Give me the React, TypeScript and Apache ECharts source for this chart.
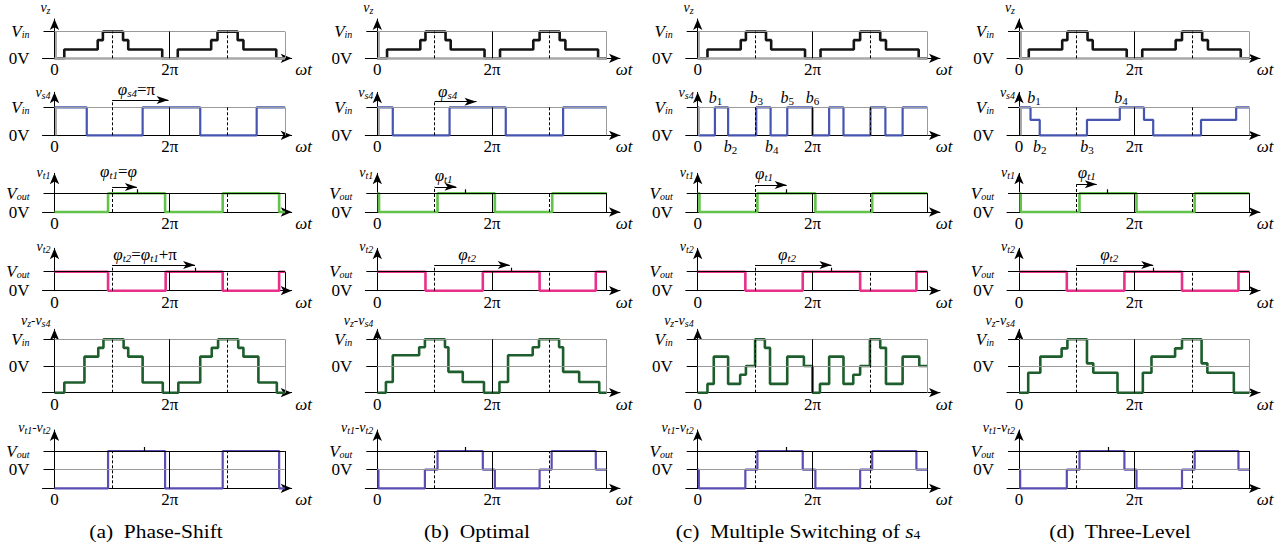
import React, { useEffect, useRef } from 'react';
import * as echarts from 'echarts';

type Pt = [number, number];

// x in units of π (axis spans 0 … 4π); y in units of the row's full level (Vin or Vout)
const vz: Pt[] = [[0, 0], [0.17, 0.33], [0.75, 0.68], [0.84, 1], [1.19, 0.68], [1.28, 0.33], [1.87, 0], [2.14, 0.33], [2.72, 0.68], [2.83, 1], [3.18, 0.68], [3.28, 0.33], [3.85, 0], [4, 0]];

const vs4A: Pt[] = [[0, 1], [0.56, 0], [1.53, 1], [2.53, 0], [3.51, 1], [4, 1]];
const vs4B: Pt[] = [[0, 1], [0.27, 0], [1.26, 1], [2.24, 0], [3.24, 1], [4, 1]];
const vs4C: Pt[] = [[0, 1], [0.02, 0], [0.3, 1], [0.53, 0], [1.02, 1], [1.27, 0], [1.56, 1], [2.0, 0], [2.29, 1], [2.54, 0], [3.01, 1], [3.27, 0], [3.57, 1], [4, 1]];
const vs4D: Pt[] = [[0, 1], [0.2, 0.55], [0.36, 0], [1.18, 0.55], [1.75, 1], [2.17, 0.55], [2.33, 0], [3.16, 0.55], [3.77, 1], [4, 1]];

const vt1A: Pt[] = [[0, 0], [0.93, 1], [1.92, 0], [2.92, 1], [3.9, 0], [4, 0]];
const vt1B: Pt[] = [[0, 1], [0.03, 0], [1.05, 1], [2.05, 0], [3.05, 1], [4, 1]];
const vt1C: Pt[] = [[0, 1], [0.03, 0], [1.04, 1], [2.05, 0], [3.04, 1], [4, 1]];
const vt1D: Pt[] = [[0, 1], [0.03, 0], [1.05, 1], [2.04, 0], [3.05, 1], [4, 1]];

const vt2A: Pt[] = [[0, 1], [0.93, 0], [1.93, 1], [2.92, 0], [3.9, 1], [4, 1]];
const vt2B: Pt[] = [[0, 1], [0.84, 0], [1.84, 1], [2.83, 0], [3.81, 1], [4, 1]];
const vt2C: Pt[] = [[0, 1], [0.83, 0], [1.83, 1], [2.83, 0], [3.81, 1], [4, 1]];
const vt2D: Pt[] = [[0, 1], [0.83, 0], [1.83, 1], [2.83, 0], [3.81, 1], [4, 1]];

const vzs4A: Pt[] = [[0, -1], [0.17, -0.62], [0.52, 0.35], [0.76, 0.68], [0.85, 1], [1.2, 0.68], [1.28, 0.35], [1.53, -0.62], [1.88, -1], [2.15, -0.62], [2.53, 0.35], [2.73, 0.68], [2.84, 1], [3.19, 0.68], [3.28, 0.35], [3.54, -0.62], [3.86, -1], [4, -1]];
const vzs4B: Pt[] = [[0, -1], [0.15, -0.6], [0.27, 0.4], [0.73, 0.7], [0.83, 1], [1.18, 0.7], [1.24, -0.22], [1.49, -0.6], [1.86, -1], [2.13, -0.6], [2.28, 0.4], [2.71, 0.7], [2.82, 1], [3.17, 0.7], [3.24, -0.22], [3.52, -0.6], [3.87, -1], [4, -1]];
const vzs4C: Pt[] = [[0, -1], [0.17, -0.67], [0.28, 0.35], [0.53, -0.67], [0.74, -0.33], [0.84, 0], [1.0, 1], [1.17, 0.68], [1.26, -0.67], [1.56, 0.35], [1.85, 0], [2.0, -1], [2.13, -0.67], [2.29, 0.35], [2.54, -0.67], [2.71, -0.33], [2.83, 0], [3.0, 1], [3.18, 0.68], [3.28, -0.67], [3.57, 0.35], [3.86, 0], [4, 0]];
const vzs4D: Pt[] = [[0, -1], [0.16, -0.25], [0.37, 0.35], [0.74, 0.66], [0.84, 1], [1.18, 0.1], [1.29, -0.25], [1.71, -1], [2.15, -0.25], [2.3, 0.35], [2.71, 0.66], [2.83, 1], [3.17, 0.1], [3.27, -0.25], [3.73, -1], [4, -1]];

const vt12A: Pt[] = [[0, -1], [0.93, 1], [1.92, -1], [2.92, 1], [3.9, -1], [4, -1]];
const vt12B: Pt[] = [[0, 0], [0.02, -1], [0.83, 0], [1.05, 1], [1.84, 0], [2.05, -1], [2.83, 0], [3.04, 1], [3.81, 0], [4, 0]];
const vt12C: Pt[] = [[0, 0], [0.02, -1], [0.83, 0], [1.04, 1], [1.83, 0], [2.05, -1], [2.83, 0], [3.04, 1], [3.81, 0], [4, 0]];
const vt12D: Pt[] = [[0, 0], [0.02, -1], [0.83, 0], [1.05, 1], [1.83, 0], [2.04, -1], [2.83, 0], [3.05, 1], [3.81, 0], [4, 0]];

// phase-shift arrows: row, start, end, level
type Arrow = { row: number; x1: number; x2: number; y: number };
type Note = { row: number; x: number; y: number; text: string };
const arrowsA: Arrow[] = [{ row: 1, x1: 1.0, x2: 1.98, y: 1.26 }, { row: 2, x1: 1.0, x2: 1.43, y: 1.34 }, { row: 3, x1: 1.0, x2: 2.44, y: 1.35 }];
const arrowsB: Arrow[] = [{ row: 1, x1: 1.0, x2: 1.73, y: 1.2 }, { row: 2, x1: 1.0, x2: 1.38, y: 1.35 }, { row: 3, x1: 1.0, x2: 2.31, y: 1.35 }];
const arrowsC: Arrow[] = [{ row: 2, x1: 1.0, x2: 1.55, y: 1.44 }, { row: 3, x1: 1.0, x2: 2.33, y: 1.35 }];
const arrowsD: Arrow[] = [{ row: 2, x1: 1.0, x2: 1.35, y: 1.48 }, { row: 3, x1: 1.0, x2: 2.33, y: 1.35 }];

const notesA: Note[] = [
  { row: 1, x: 1.1, y: 1.62, text: '{p|φ}{ps|s4}{r|=π}' },
  { row: 2, x: 0.79, y: 2.16, text: '{p|φ}{ps|t1}{r|=}{p|φ}' },
  { row: 3, x: 1.02, y: 1.9, text: '{p|φ}{ps|t2}{r|=}{p|φ}{ps|t1}{r|+π}' },
];
const notesB: Note[] = [
  { row: 1, x: 1.06, y: 1.55, text: '{p|φ}{ps|s4}' },
  { row: 2, x: 1.0, y: 1.95, text: '{p|φ}{ps|t1}' },
  { row: 3, x: 1.41, y: 1.9, text: '{p|φ}{ps|t2}' },
];
const notesC: Note[] = [
  { row: 2, x: 1.0, y: 2.05, text: '{p|φ}{ps|t1}' },
  { row: 3, x: 1.4, y: 1.9, text: '{p|φ}{ps|t2}' },
];
const notesD: Note[] = [
  { row: 2, x: 1.02, y: 2.1, text: '{p|φ}{ps|t1}' },
  { row: 3, x: 1.41, y: 1.9, text: '{p|φ}{ps|t2}' },
];

// small marks standing on the top level line: row, position
type Mark = { row: number; x: number };
const marksA: Mark[] = [{ row: 2, x: 1.43 }, { row: 3, x: 2.44 }, { row: 5, x: 1.56 }];
const marksB: Mark[] = [{ row: 2, x: 1.54 }, { row: 3, x: 2.33 }, { row: 5, x: 1.54 }];
const marksC: Mark[] = [{ row: 2, x: 1.55 }, { row: 3, x: 2.33 }, { row: 5, x: 1.55 }];
const marksD: Mark[] = [{ row: 2, x: 1.54 }, { row: 3, x: 2.33 }, { row: 5, x: 1.55 }];

// switching-instant labels on v_s4
type BLabel = { name: string; x: number; above: boolean };
const bLabelsC: BLabel[] = [{ name: '1', x: 0.31, above: true }, { name: '2', x: 0.57, above: false }, { name: '3', x: 1.02, above: true }, { name: '4', x: 1.29, above: false }, { name: '5', x: 1.56, above: true }, { name: '6', x: 2.0, above: true }];
const bLabelsD: BLabel[] = [{ name: '1', x: 0.26, above: true }, { name: '2', x: 0.36, above: false }, { name: '3', x: 1.18, above: false }, { name: '4', x: 1.77, above: true }];

const xTickValues = [0, 2];
const xTickLabels = ['0', '2π'];
const rowNames = ['{v|v}{s|z}', '{v|v}{s|s4}', '{v|v}{s|t1}', '{v|v}{s|t2}', '{v|v}{s|z}{m|-}{v|v}{s|s4}', '{v|v}{s|t1}{m|-}{v|v}{s|t2}'];
const rowTopSub = ['in', 'in', 'out', 'out', 'in', 'out'];
const captions = ['(a)  Phase-Shift', '(b)  Optimal', '(c)  Multiple Switching of {i|s}{is|4}', '(d)  Three-Level'];

const columns = [
  { vs4: vs4A, vt1: vt1A, vt2: vt2A, vzs4: vzs4A, vt12: vt12A, arrows: arrowsA, notes: notesA, marks: marksA, bl: [] as BLabel[] },
  { vs4: vs4B, vt1: vt1B, vt2: vt2B, vzs4: vzs4B, vt12: vt12B, arrows: arrowsB, notes: notesB, marks: marksB, bl: [] as BLabel[] },
  { vs4: vs4C, vt1: vt1C, vt2: vt2C, vzs4: vzs4C, vt12: vt12C, arrows: arrowsC, notes: notesC, marks: marksC, bl: bLabelsC },
  { vs4: vs4D, vt1: vt1D, vt2: vt2D, vzs4: vzs4D, vt12: vt12D, arrows: arrowsD, notes: notesD, marks: marksD, bl: bLabelsD },
];

// ---------- layout & style ----------
const FONT = 'Liberation Serif';
const colOrigin = [54.5, 377.3, 697.7, 1019];
const colPpu = [57.6, 57.35, 57.4, 57.6];
const colTipX = [296.7, 625, 945, 1265];
const colNameGap = [12, 4, 4, 5];
const captionX = [156, 477, 798, 1120];
const rowTipY = [12.7, 87.3, 168.3, 243.3, 324.3, 425];
const rowLevelY = [30.7, 107.3, 193.3, 271.7, 339.3, 451];
const rowBottomY = [58.3, 135.3, 212, 290.7, 392.7, 488.3];
const rowMin = [0, 0, 0, 0, -1, -1];
const rowNameGap = [12, 0, 1, 1.5, 9, 2.5];
const rowColors = ['#141414', '#4655b0', '#62c24a', '#e8308a', '#1d5e2c', '#5a4db3'];
const rowFrame = ['#9a9a9a', '#9a9a9a', '#000', '#000', '#9a9a9a', '#000'];
const ARROW_HALF = 5;
const LEFT_EXT = 12;
const MARK_PX = 4;

const rich: any = {
  V: { fontFamily: FONT, fontStyle: 'italic', fontSize: 17, color: '#000' },
  s: { fontFamily: FONT, fontStyle: 'italic', fontSize: 10, color: '#000', padding: [6, 0, 0, 0] },
  z: { fontFamily: FONT, fontSize: 17, color: '#000' },
  v: { fontFamily: FONT, fontStyle: 'italic', fontSize: 14, color: '#000' },
  m: { fontFamily: FONT, fontSize: 13, color: '#000' },
  p: { fontFamily: FONT, fontStyle: 'italic', fontSize: 17, color: '#000' },
  ps: { fontFamily: FONT, fontStyle: 'italic', fontSize: 11, color: '#000', padding: [7, 0, 0, 0] },
  r: { fontFamily: FONT, fontSize: 17, color: '#000' },
  b: { fontFamily: FONT, fontStyle: 'italic', fontSize: 16, color: '#000' },
  n: { fontFamily: FONT, fontSize: 11, color: '#000', padding: [7, 0, 0, 0] },
};

function seg(x1: number, y1: number, x2: number, y2: number, color: string, width = 1, type: any = 'solid') {
  return [{ coord: [x1, y1], lineStyle: { color, width, type } }, { coord: [x2, y2] }];
}

function buildOption() {
  const grids: any[] = [];
  const xAxes: any[] = [];
  const yAxes: any[] = [];
  const series: any[] = [];

  columns.forEach((col, c) => {
    const rowsData = [vz, col.vs4, col.vt1, col.vt2, col.vzs4, col.vt12];
    rowsData.forEach((data, r) => {
      const i = c * 6 + r;
      const ppuY = (rowBottomY[r] - rowLevelY[r]) / (1 - rowMin[r]);
      const gTop = rowTipY[r] + ARROW_HALF;
      const yMax = 1 + (rowLevelY[r] - gTop) / ppuY;
      const xMin = -LEFT_EXT / colPpu[c];
      const xMax = (colTipX[c] - ARROW_HALF - colOrigin[c]) / colPpu[c];
      grids.push({
        left: colOrigin[c] - LEFT_EXT,
        top: gTop,
        width: colTipX[c] - ARROW_HALF - colOrigin[c] + LEFT_EXT,
        height: rowBottomY[r] - gTop,
      });
      xAxes.push({
        type: 'value', gridIndex: i, min: xMin, max: xMax,
        axisLine: { onZero: false, lineStyle: { color: '#000', width: 1 }, symbol: ['none', 'arrow'], symbolSize: [7, 11] },
        axisTick: { show: false },
        splitLine: { show: false },
        axisLabel: {
          customValues: xTickValues,
          formatter: (v: number) => xTickLabels[xTickValues.indexOf(Math.round(v))] ?? '',
          margin: 3, fontFamily: FONT, fontSize: 17, color: '#000',
        },
        name: 'ωt', nameLocation: 'end', nameGap: colNameGap[c],
        nameTextStyle: { fontFamily: FONT, fontStyle: 'italic', fontSize: 17, color: '#000', align: 'center', verticalAlign: 'top', padding: [3, 0, 0, 0] },
      });
      const sub = rowTopSub[r];
      yAxes.push({
        type: 'value', gridIndex: i, min: rowMin[r], max: yMax,
        axisLine: { onZero: true, lineStyle: { color: '#000', width: 1 }, symbol: ['none', 'arrow'], symbolSize: [7, 11] },
        axisTick: { customValues: [0, 1], length: 11, lineStyle: { color: '#000', width: 1 } },
        splitLine: { show: false },
        axisLabel: {
          customValues: [0, 1],
          formatter: (v: number) => (Math.abs(v) < 0.01 ? '{z|0V}' : '{V|V}{s|' + sub + '}'),
          margin: 13, rich,
        },
        name: rowNames[r], nameLocation: 'end', nameGap: rowNameGap[r],
        nameTextStyle: { align: 'right', verticalAlign: 'middle', padding: [0, 4, 0, 0], rich },
      });

      // frame & reference lines
      const lo = rowMin[r];
      const fr = rowFrame[r];
      const lines: any[] = [];
      if (r === 0) lines.push(seg(0, 0, 4, 0, '#a8a8a8', 2.5));
      if (r <= 1) lines.push(seg(0.025, 0, 0.025, 1, '#a8a8a8', 2));
      lines.push(seg(0, 1, 4, 1, fr, 1));
      lines.push(seg(4, lo, 4, 1, fr, 1));
      if (lo < 0) {
        lines.push(seg(0, 0, 4, 0, '#9a9a9a', 1));
      }
      lines.push(seg(2, lo, 2, 1, '#000', 1));
      const arrows = col.arrows.filter((a) => a.row === r);
      const piTop = arrows.length ? arrows[0].y : 1;
      lines.push(seg(1, lo, 1, piTop, '#000', 1, [3, 2]));
      lines.push(seg(3, lo, 3, 1, '#000', 1, [3, 2]));
      arrows.forEach((a) => {
        lines.push([
          { coord: [a.x1, a.y], symbol: 'none', lineStyle: { color: '#000', width: 1, type: 'solid' } },
          { coord: [a.x2, a.y], symbol: 'arrow', symbolSize: [6, 12] },
        ]);
      });
      col.marks.filter((m) => m.row === r).forEach((m) => {
        lines.push(seg(m.x, 1, m.x, 1 + MARK_PX / ppuY, '#000', 1.2));
      });

      const points: any[] = [];
      col.notes.filter((n) => n.row === r).forEach((n) => {
        // anchor on the top level, lift the label to the note's level
        points.push({
          coord: [n.x, 1],
          label: { show: true, position: 'right', distance: 0, offset: [0, -(n.y - 1) * ppuY], formatter: n.text, rich },
        });
      });
      if (r === 1) {
        col.bl.forEach((b) => {
          points.push({
            coord: [b.x, b.above ? 1 : 0],
            label: { show: true, position: b.above ? 'top' : 'bottom', distance: b.above ? 1 : 2, formatter: '{b|b}{n|' + b.name + '}', rich },
          });
        });
      }

      series.push({
        type: 'line', xAxisIndex: i, yAxisIndex: i, data: [], z: 1, silent: true, clip: false,
        markLine: { silent: true, symbol: ['none', 'none'], label: { show: false }, animation: false, data: lines },
        markPoint: { silent: true, symbol: 'circle', symbolSize: 0, animation: false, itemStyle: { color: 'transparent' }, data: points },
      });
      series.push({
        type: 'line', xAxisIndex: i, yAxisIndex: i, data, step: 'end', symbol: 'none', z: 3, silent: true, clip: false,
        lineStyle: { color: rowColors[r], width: r === 1 || r === 5 ? 2.2 : 2.6 },
      });
    });
  });

  const graphic = captions.map((t, c) => ({
    type: 'text', x: captionX[c], y: 531, scaleX: 1.13, silent: true,
    style: {
      text: t, fontFamily: FONT, fontSize: 19, fill: '#000', align: 'center', verticalAlign: 'middle',
      rich: {
        i: { fontFamily: FONT, fontStyle: 'italic', fontSize: 19, fill: '#000' },
        is: { fontFamily: FONT, fontSize: 12, fill: '#000', padding: [8, 0, 0, 0] },
      },
    },
  }));

  return { animation: false, backgroundColor: '#fff', grid: grids, xAxis: xAxes, yAxis: yAxes, series, graphic };
}

export default function App() {
  const ref = useRef<HTMLDivElement>(null);
  useEffect(() => {
    const chart = echarts.init(ref.current!, undefined, { renderer: 'svg', width: 1288, height: 549 });
    chart.setOption(buildOption() as any);
    return () => chart.dispose();
  }, []);
  return <div ref={ref} style={{ position: 'absolute', left: 0, top: 0, width: 1288, height: 549, background: '#fff' }} />;
}
